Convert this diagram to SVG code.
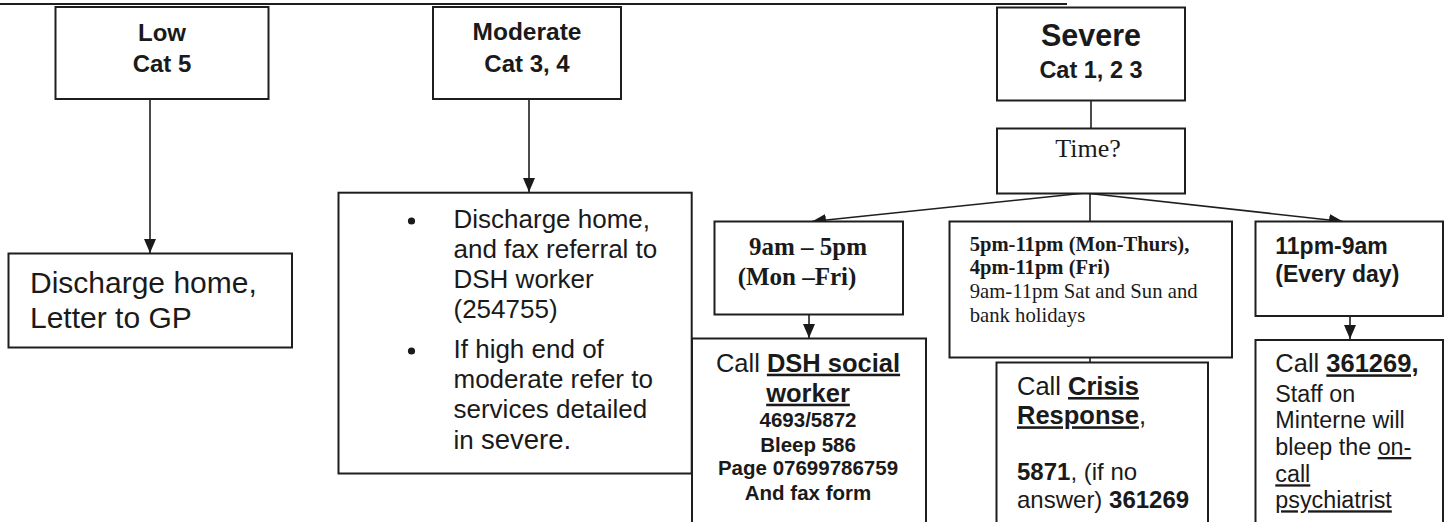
<svg xmlns="http://www.w3.org/2000/svg" width="1447" height="522" viewBox="0 0 1447 522">
<style>
.box{fill:#fff;stroke:#1e1e1e;stroke-width:2}
.edge{fill:none;stroke:#1e1e1e;stroke-width:1.6}
.a{font-family:"Liberation Sans",Arial,sans-serif;fill:#1a1a1a}
.t{font-family:"Liberation Serif","Times New Roman",serif;fill:#1a1a1a}
.b{font-weight:bold}
.u{text-decoration:underline}
</style>
<defs>
<marker id="ah" markerWidth="14" markerHeight="12" refX="14" refY="6" orient="auto" markerUnits="userSpaceOnUse">
<path d="M0,0 L14,6 L0,12 z" fill="#1a1a1a"/>
</marker>
</defs>
<rect width="1447" height="522" fill="#fff"/>
<line x1="0" y1="4" x2="1067" y2="4" stroke="#1e1e1e" stroke-width="2"/>

<g id="connectors">
<line class="edge" x1="150" y1="99" x2="150" y2="253" marker-end="url(#ah)"/>
<line class="edge" x1="529" y1="99" x2="529" y2="192" marker-end="url(#ah)"/>
<line class="edge" x1="1091" y1="101" x2="1091" y2="145" marker-end="url(#ah)"/>
<line class="edge" x1="1085" y1="193" x2="812" y2="221.5" marker-end="url(#ah)"/>
<line class="edge" x1="1090" y1="193" x2="1090" y2="237" marker-end="url(#ah)"/>
<line class="edge" x1="1085" y1="193" x2="1343" y2="221.5" marker-end="url(#ah)"/>
<line class="edge" x1="809" y1="314" x2="809" y2="338" marker-end="url(#ah)"/>
<line class="edge" x1="1090" y1="358" x2="1090" y2="377" marker-end="url(#ah)"/>
<line class="edge" x1="1350" y1="316" x2="1350" y2="339" marker-end="url(#ah)"/>
</g>

<g id="low">
<rect class="box" x="55.5" y="7" width="213" height="92"/>
<text class="a b" font-size="24" text-anchor="middle" x="162" y="40.7">Low</text>
<text class="a b" font-size="24" text-anchor="middle" x="162" y="71.7">Cat 5</text>
</g>

<g id="moderate">
<rect class="box" x="433" y="7" width="188" height="92"/>
<text class="a b" font-size="24.5" text-anchor="middle" x="527" y="40">Moderate</text>
<text class="a b" font-size="24" text-anchor="middle" x="527" y="71.7">Cat 3, 4</text>
</g>

<g id="severe">
<rect class="box" x="997" y="7.5" width="188" height="93"/>
<text class="a b" font-size="30.5" text-anchor="middle" x="1091" y="45.7">Severe</text>
<text class="a b" font-size="23.5" text-anchor="middle" x="1091" y="77.7">Cat 1, 2 3</text>
</g>

<g id="time">
<rect class="box" x="997" y="128.5" width="188" height="65"/>
<text class="t" font-size="26" text-anchor="middle" x="1088" y="157">Time?</text>
</g>

<g id="discharge-low">
<rect class="box" x="8.5" y="253.5" width="283.5" height="94"/>
<text class="a" font-size="30" x="30" y="292.7">Discharge home,</text>
<text class="a" font-size="30" x="30" y="328.3">Letter to GP</text>
</g>

<g id="moderate-actions">
<rect class="box" x="338.5" y="192.7" width="353.2" height="280.8"/>
<circle cx="411.5" cy="221" r="3.6" fill="#1a1a1a"/>
<circle cx="411.5" cy="351" r="3.6" fill="#1a1a1a"/>
<text class="a" font-size="26" x="453.5" y="228.3">Discharge home,</text>
<text class="a" font-size="26" x="453.5" y="258.3">and fax referral to</text>
<text class="a" font-size="26" x="453.5" y="288.3">DSH worker</text>
<text class="a" font-size="26" x="453.5" y="318.3">(254755)</text>
<text class="a" font-size="26" x="453.5" y="358.3">If high end of</text>
<text class="a" font-size="26" x="453.5" y="388.3">moderate refer to</text>
<text class="a" font-size="26" x="453.5" y="418.3">services detailed</text>
<text class="a" font-size="26" x="453.5" y="449">in <tspan font-size="27.5">severe.</tspan></text>
</g>

<g id="day">
<rect class="box" x="714.5" y="221.5" width="188.5" height="93"/>
<text class="t b" font-size="25" text-anchor="middle" x="808" y="255">9am – 5pm</text>
<text class="t b" font-size="25" text-anchor="middle" x="797" y="285">(Mon –Fri)</text>
</g>

<g id="evening">
<rect class="box" x="949.5" y="221.5" width="282.5" height="136"/>
<text class="t b" font-size="20.6" x="969.7" y="251">5pm-11pm (Mon-Thurs),</text>
<text class="t b" font-size="20.6" x="969.7" y="274.3">4pm-11pm (Fri)</text>
<text class="t" font-size="20.7" x="969.7" y="298.3">9am-11pm Sat and Sun and</text>
<text class="t" font-size="20.7" x="969.7" y="321.7">bank holidays</text>
</g>

<g id="night">
<rect class="box" x="1255.5" y="221.5" width="187.5" height="94.5"/>
<text class="a b" font-size="23" x="1275.3" y="254.3">11pm-9am</text>
<text class="a b" font-size="23" x="1275.3" y="282">(Every day)</text>
</g>

<g id="dsh-social-worker">
<path class="box" d="M692,530 V338.5 H926 V530"/>
<text class="a" font-size="25.5" text-anchor="middle" x="808" y="371.7">Call <tspan class="b u">DSH social</tspan></text>
<text class="a b u" font-size="25.5" text-anchor="middle" x="808" y="401.7">worker</text>
<text class="a b" font-size="20.5" text-anchor="middle" x="808" y="427.3">4693/5872</text>
<text class="a b" font-size="20.5" text-anchor="middle" x="808" y="451.7">Bleep 586</text>
<text class="a b" font-size="20.5" text-anchor="middle" x="808" y="475">Page 07699786759</text>
<text class="a b" font-size="20.5" text-anchor="middle" x="808" y="500">And fax form</text>
</g>

<g id="crisis-response">
<path class="box" d="M996.5,530 V362.5 H1208 V530"/>
<text class="a" font-size="25.5" x="1017" y="395">Call <tspan class="b u">Crisis</tspan></text>
<text class="a" font-size="25.5" x="1017" y="424.3"><tspan class="b u">Response</tspan>,</text>
<text class="a" font-size="24" x="1017" y="480"><tspan class="b">5871</tspan>, (if no</text>
<text class="a" font-size="24" x="1017" y="507.7">answer) <tspan class="b">361269</tspan></text>
</g>

<g id="on-call">
<path class="box" d="M1255.5,530 V340 H1443 V530"/>
<text class="a" font-size="25.5" x="1275.3" y="372.3">Call <tspan class="b u">361269,</tspan></text>
<text class="a" font-size="23.3" x="1275.3" y="401.7">Staff on</text>
<text class="a" font-size="23.3" x="1275.3" y="428.3">Minterne will</text>
<text class="a" font-size="23.3" x="1275.3" y="455">bleep the <tspan class="u">on-</tspan></text>
<text class="a u" font-size="23.3" x="1275.3" y="482.3">call</text>
<text class="a u" font-size="23.3" x="1275.3" y="508.3">psychiatrist</text>
</g>
</svg>
